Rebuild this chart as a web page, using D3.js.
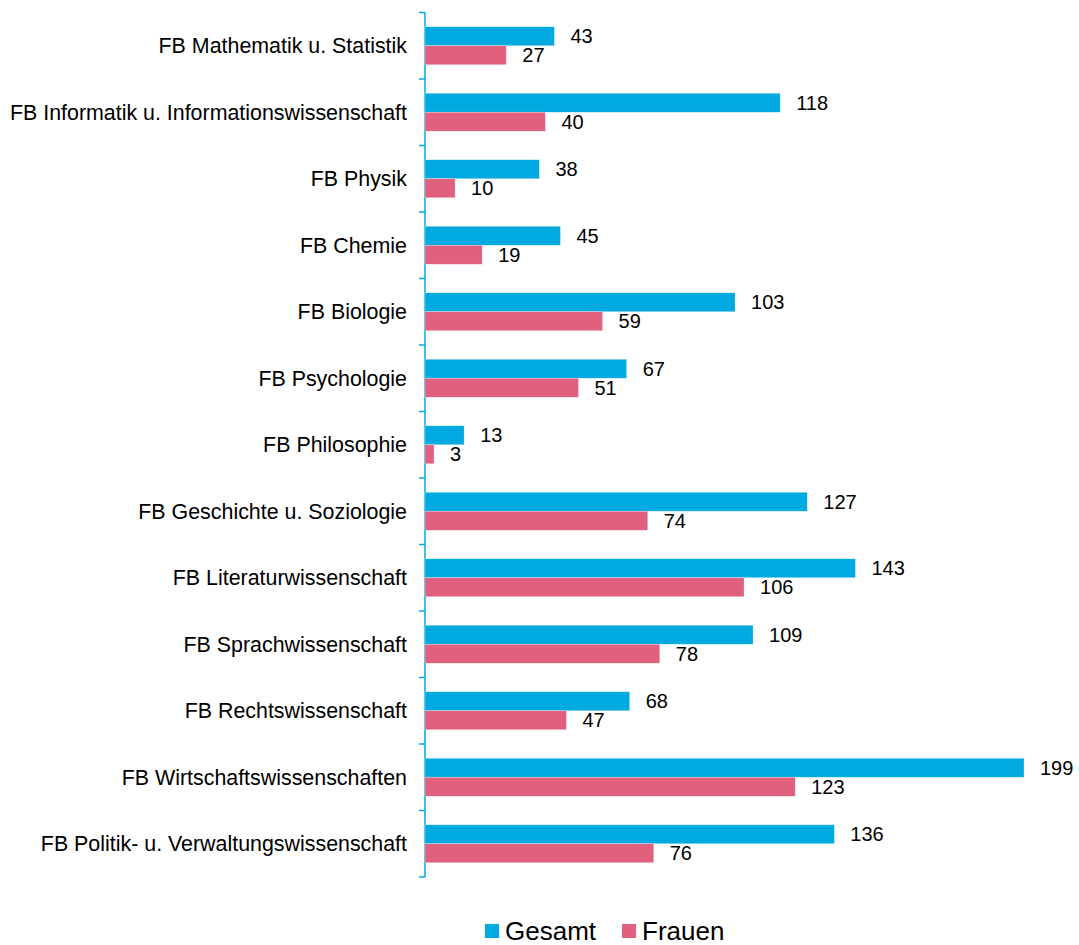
<!DOCTYPE html>
<html>
<head>
<meta charset="utf-8">
<script src="https://cdn.jsdelivr.net/npm/d3@7"></script>
<style>
    body { margin: 0; background: #fff; }
    text { font-family: Arial, "Liberation Sans", sans-serif; fill: #000; }
</style>
</head>
<body>
<div id="chart"></div>
<script>
var categories = [
    "FB Mathematik u. Statistik",
    "FB Informatik u. Informationswissenschaft",
    "FB Physik",
    "FB Chemie",
    "FB Biologie",
    "FB Psychologie",
    "FB Philosophie",
    "FB Geschichte u. Soziologie",
    "FB Literaturwissenschaft",
    "FB Sprachwissenschaft",
    "FB Rechtswissenschaft",
    "FB Wirtschaftswissenschaften",
    "FB Politik- u. Verwaltungswissenschaft"
];
var gesamt = [43, 118, 38, 45, 103, 67, 13, 127, 143, 109, 68, 199, 136];
var frauen = [27, 40, 10, 19, 59, 51, 3, 74, 106, 78, 47, 123, 76];
var seriesNames = ["Gesamt", "Frauen"];
var colors = ["#00a9e0", "#e0607e"];

var width = 1079,
    height = 945;

var svg = d3.select("#chart")
    .append("svg")
    .attr("width", width)
    .attr("height", height);

var x = d3.scaleLinear().domain([0, 199]).range([425, 1024]);
var y = d3.scaleBand().domain(categories).range([12.5, 877]);
var barH = 19;

// y axis
var yAxis = svg.append("g")
    .attr("transform", "translate(425,0)");
yAxis.append("line")
    .attr("x1", 0).attr("x2", 0)
    .attr("y1", y.range()[0]).attr("y2", y.range()[1])
    .attr("stroke", colors[0]).attr("stroke-width", 1.5);
var tickPos = categories.map(function (c) { return y(c) }).concat([y.range()[1]]);
yAxis.selectAll(".tick")
    .data(tickPos)
    .enter()
    .append("line")
    .attr("x1", -6).attr("x2", 0)
    .attr("y1", function (d) { return d }).attr("y2", function (d) { return d })
    .attr("stroke", colors[0]).attr("stroke-width", 1.5);

yAxis.selectAll(".lbl")
    .data(categories)
    .enter()
    .append("text")
    .attr("x", -18)
    .attr("y", function (d) { return y(d) + y.bandwidth() / 2 })
    .attr("dy", "0.35em")
    .attr("text-anchor", "end")
    .style("font-size", "21.4px")
    .text(function (d) { return d });

// bars
var series = [gesamt, frauen];
series.forEach(function (vals, s) {
    var g = svg.append("g");
    g.selectAll("rect")
        .data(vals)
        .enter()
        .append("rect")
        .attr("x", x(0))
        .attr("y", function (d, i) { return y(categories[i]) + y.bandwidth() / 2 - barH + s * barH })
        .attr("width", function (d) { return x(d) - x(0) })
        .attr("height", barH)
        .attr("fill", colors[s])
        .attr("stroke", "#fff")
        .attr("stroke-opacity", 0.5)
        .attr("stroke-width", 0.6);
    g.selectAll("text")
        .data(vals)
        .enter()
        .append("text")
        .attr("x", function (d) { return x(d) + 16 })
        .attr("y", function (d, i) { return y(categories[i]) + y.bandwidth() / 2 - barH / 2 + s * barH })
        .attr("dy", "0.35em")
        .style("font-size", "20px")
        .text(function (d) { return d });
});

// legend
var legend = svg.append("g");
var legendX = [485, 622];
seriesNames.forEach(function (n, i) {
    legend.append("rect")
        .attr("x", legendX[i]).attr("y", 924)
        .attr("width", 14).attr("height", 14)
        .attr("fill", colors[i]);
    legend.append("text")
        .attr("x", legendX[i] + 20).attr("y", 931)
        .attr("dy", "0.35em")
        .style("font-size", "26px")
        .text(n);
});
</script>
</body>
</html>
